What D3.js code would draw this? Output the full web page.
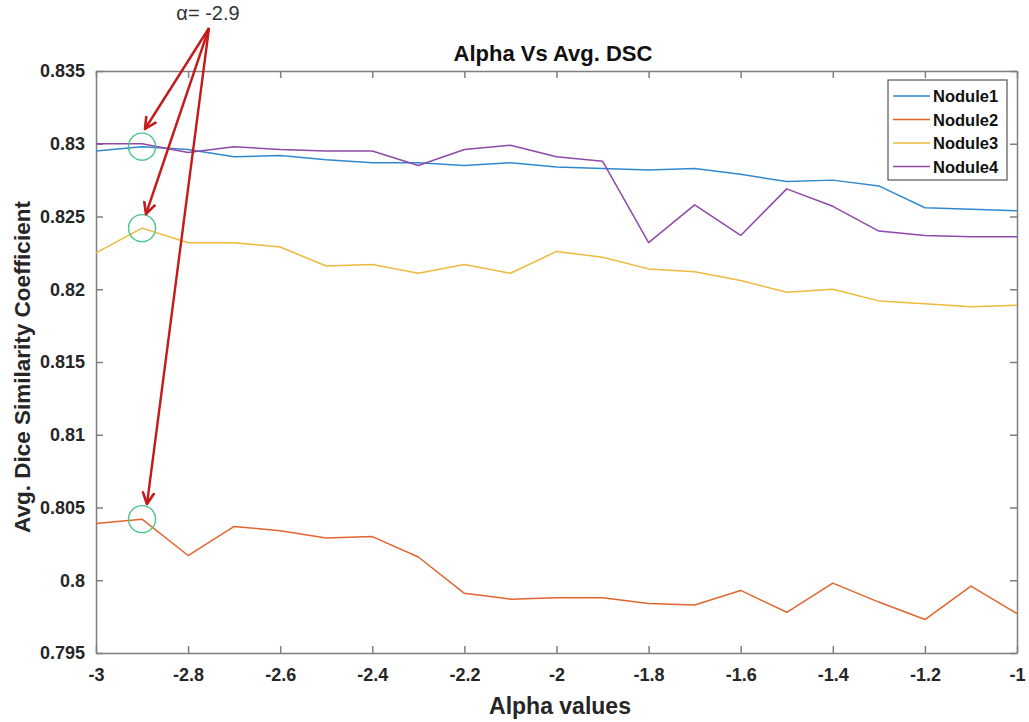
<!DOCTYPE html>
<html>
<head>
<meta charset="utf-8">
<script src="https://cdn.jsdelivr.net/npm/d3@7"></script>
<style>
  body { margin: 0; background: #fff; }
  svg { display: block; font-family: "Liberation Sans", Arial, sans-serif; }
</style>
</head>
<body>
<div id="chart"></div>
<script>
// alpha values on the x axis
var alphas = [-3, -2.9, -2.8, -2.7, -2.6, -2.5, -2.4, -2.3, -2.2, -2.1, -2, -1.9, -1.8, -1.7, -1.6, -1.5, -1.4, -1.3, -1.2, -1.1, -1];

var nodule1 = [0.8295, 0.8298, 0.8296, 0.8291, 0.8292, 0.8289, 0.8287, 0.8287, 0.8285, 0.8287, 0.8284, 0.8283, 0.8282, 0.8283, 0.8279, 0.8274, 0.8275, 0.8271, 0.8256, 0.8255, 0.8254];
var nodule2 = [0.8039, 0.8042, 0.8017, 0.8037, 0.8034, 0.8029, 0.8030, 0.8016, 0.7991, 0.7987, 0.7988, 0.7988, 0.7984, 0.7983, 0.7993, 0.7978, 0.7998, 0.7985, 0.7973, 0.7996, 0.7977];
var nodule3 = [0.8225, 0.8242, 0.8232, 0.8232, 0.8229, 0.8216, 0.8217, 0.8211, 0.8217, 0.8211, 0.8226, 0.8222, 0.8214, 0.8212, 0.8206, 0.8198, 0.8200, 0.8192, 0.8190, 0.8188, 0.8189];
var nodule4 = [0.8300, 0.8300, 0.8294, 0.8298, 0.8296, 0.8295, 0.8295, 0.8285, 0.8296, 0.8299, 0.8291, 0.8288, 0.8232, 0.8258, 0.8237, 0.8269, 0.8257, 0.8240, 0.8237, 0.8236, 0.8236];

var seriesNames = ["Nodule1", "Nodule2", "Nodule3", "Nodule4"];
var seriesColors = ["#3089cf", "#e0652f", "#eeb93c", "#8f49a8"];
var seriesValues = [nodule1, nodule2, nodule3, nodule4];

var xTicks = [-3, -2.8, -2.6, -2.4, -2.2, -2, -1.8, -1.6, -1.4, -1.2, -1];
var yTicks = [0.795, 0.8, 0.805, 0.81, 0.815, 0.82, 0.825, 0.83, 0.835];

// points marked by circles at alpha = -2.9
var markedAlpha = -2.9;
var markedValues = [0.8298, 0.8242, 0.8042];
var annotation = "α= -2.9";

var width = 1029, height = 722;
var margin = {top: 71, right: 12, bottom: 69, left: 96};

var svg = d3.select("#chart").append("svg")
  .attr("width", width)
  .attr("height", height);

var x = d3.scaleLinear().domain([-3, -1]).range([margin.left, width - margin.right]);
var y = d3.scaleLinear().domain([0.795, 0.835]).range([height - margin.bottom, margin.top]);

var axisColor = "#7f7f7f";
var textColor = "#262626";
var arrowColor = "#c41a1a";

function plain(digits) {
  return function(d){ return String(+d.toFixed(digits)); };
}

// axes with inward ticks
var gBottom = svg.append("g")
  .attr("transform", "translate(0," + (height - margin.bottom) + ")")
  .call(d3.axisBottom(x).tickValues(xTicks).tickSizeInner(-7).tickSizeOuter(0).tickPadding(15).tickFormat(plain(1)));
var gTop = svg.append("g")
  .attr("transform", "translate(0," + margin.top + ")")
  .call(d3.axisTop(x).tickValues(xTicks).tickSizeInner(-7).tickSizeOuter(0).tickFormat(""));
var gLeft = svg.append("g")
  .attr("transform", "translate(" + margin.left + ",0)")
  .call(d3.axisLeft(y).tickValues(yTicks).tickSizeInner(-7).tickSizeOuter(0).tickPadding(11).tickFormat(plain(3)));
var gRight = svg.append("g")
  .attr("transform", "translate(" + (width - margin.right) + ",0)")
  .call(d3.axisRight(y).tickValues(yTicks).tickSizeInner(-7).tickSizeOuter(0).tickFormat(""));

[gBottom, gTop, gLeft, gRight].forEach(function(g){
  g.selectAll("path, line").attr("stroke", axisColor).attr("stroke-width", 1.5);
  g.selectAll("text").attr("fill", textColor).style("font-size", "18px").style("font-weight", "bold");
});

// lines
var line = d3.line()
  .x(function(d, i){ return x(alphas[i]); })
  .y(function(d){ return y(d); });

seriesValues.forEach(function(vals, i){
  svg.append("path")
    .datum(vals)
    .attr("fill", "none")
    .attr("stroke", seriesColors[i])
    .attr("stroke-width", 1.5)
    .attr("stroke-linejoin", "round")
    .attr("d", line);
});

// title and axis labels
svg.append("text")
  .attr("x", 553)
  .attr("y", 61)
  .attr("text-anchor", "middle")
  .attr("fill", "#111")
  .style("font-size", "22px").style("font-weight", "bold")
  .text("Alpha Vs Avg. DSC");

svg.append("text")
  .attr("x", 560)
  .attr("y", 714)
  .attr("text-anchor", "middle")
  .attr("fill", textColor)
  .style("font-size", "23px").style("font-weight", "bold")
  .text("Alpha values");

svg.append("text")
  .attr("transform", "translate(30,367) rotate(-90)")
  .attr("text-anchor", "middle")
  .attr("fill", textColor)
  .style("font-size", "22.5px").style("font-weight", "bold")
  .text("Avg. Dice Similarity Coefficient");

// legend
var legend = svg.append("g").attr("transform", "translate(888,80)");
legend.append("rect")
  .attr("width", 119).attr("height", 100)
  .attr("fill", "#fff").attr("stroke", "#555").attr("stroke-width", 1.2);
seriesNames.forEach(function(name, i){
  var row = legend.append("g").attr("transform", "translate(0," + (16 + i * 23.5) + ")");
  row.append("line").attr("x1", 5).attr("x2", 42).attr("y1", 0).attr("y2", 0)
    .attr("stroke", seriesColors[i]).attr("stroke-width", 1.6);
  row.append("text").attr("x", 45).attr("y", 6)
    .attr("fill", "#111")
    .style("font-size", "16.5px").style("font-weight", "bold")
    .text(name);
});

// annotation: circles and red arrows
var anchor = {x: 209, y: 28};
var tips = [[145, 129], [146, 214], [147, 504]];

svg.append("defs").append("marker")
  .attr("id", "arrow")
  .attr("viewBox", "0 0 14 14")
  .attr("refX", 12).attr("refY", 7)
  .attr("markerWidth", 14).attr("markerHeight", 14)
  .attr("markerUnits", "userSpaceOnUse")
  .attr("orient", "auto")
  .append("path")
  .attr("d", "M1,1.5 L12,7 L1,12.5")
  .attr("fill", "none").attr("stroke", arrowColor).attr("stroke-width", 2.6)
  .attr("stroke-linecap", "round").attr("stroke-linejoin", "round");

markedValues.forEach(function(v){
  svg.append("circle")
    .attr("cx", x(markedAlpha)).attr("cy", y(v)).attr("r", 13.5)
    .attr("fill", "none").attr("stroke", "#4cc48a").attr("stroke-width", 1.4);
});

tips.forEach(function(t){
  svg.append("line")
    .attr("x1", anchor.x).attr("y1", anchor.y)
    .attr("x2", t[0]).attr("y2", t[1])
    .attr("stroke", arrowColor).attr("stroke-width", 2.4)
    .attr("marker-end", "url(#arrow)");
});

svg.append("text")
  .attr("x", 208).attr("y", 20)
  .attr("text-anchor", "middle")
  .attr("fill", "#333")
  .style("font-size", "20px")
  .text(annotation);
</script>
</body>
</html>
